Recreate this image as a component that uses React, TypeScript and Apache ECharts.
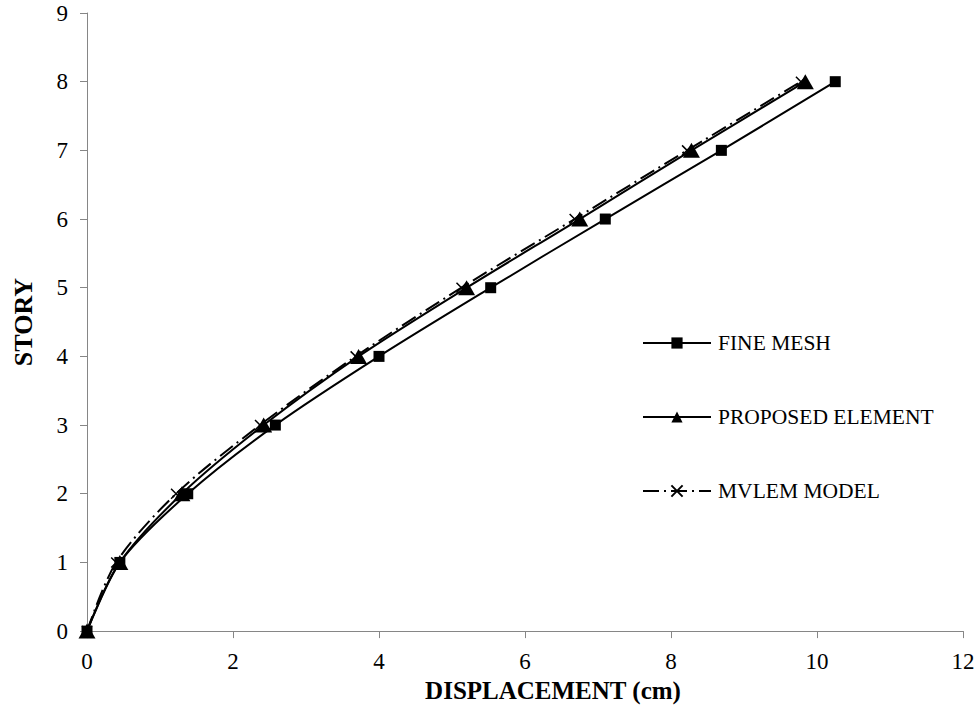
import React, { useEffect, useRef } from "react";
import * as echarts from "echarts";

const stories = [0, 1, 2, 3, 4, 5, 6, 7, 8];
const fineMesh = [0, 0.45, 1.38, 2.58, 4.0, 5.53, 7.1, 8.69, 10.25];
const proposed = [0, 0.45, 1.3, 2.42, 3.72, 5.2, 6.75, 8.28, 9.84];
const mvlem = [0, 0.4, 1.22, 2.37, 3.68, 5.13, 6.68, 8.22, 9.78];
const seriesNames = ["FINE MESH", "PROPOSED ELEMENT", "MVLEM MODEL"];

const pairs = (xs: number[]) => xs.map((x, i) => [x, stories[i]]);

export default function App() {
  const ref = useRef<HTMLDivElement>(null);
  useEffect(() => {
    if (!ref.current) return;
    const chart = echarts.init(ref.current, null, { renderer: "svg" });
    const font = "'Liberation Serif', 'Times New Roman', serif";
    const axisCommon = {
      axisLine: { show: true, lineStyle: { color: "#868686", width: 1 } },
      axisTick: { show: true, inside: false, length: 7, lineStyle: { color: "#868686", width: 1 } },
      splitLine: { show: false },
      axisLabel: { color: "#000", fontFamily: font, fontSize: 23 },
    };
    chart.setOption({
      animation: false,
      backgroundColor: "#fff",
      grid: { left: 87, right: 16, top: 13, bottom: 76, containLabel: false },
      xAxis: {
        type: "value",
        min: 0,
        max: 12,
        interval: 2,
        name: "DISPLACEMENT (cm)",
        nameLocation: "middle",
        nameGap: 44,
        nameTextStyle: {
          color: "#000",
          fontFamily: font,
          fontSize: 25,
          fontWeight: "bold",
          padding: [0, 0, 0, 56],
        },
        ...axisCommon,
        axisLabel: { ...axisCommon.axisLabel, margin: 19 },
      },
      yAxis: {
        type: "value",
        min: 0,
        max: 9,
        interval: 1,
        name: "STORY",
        nameLocation: "middle",
        nameGap: 51,
        nameTextStyle: {
          color: "#000",
          fontFamily: font,
          fontSize: 26,
          fontWeight: "bold",
        },
        ...axisCommon,
        axisLabel: { ...axisCommon.axisLabel, margin: 19 },
      },
      legend: {
        orient: "vertical",
        left: 642,
        top: 332,
        padding: 0,
        itemWidth: 68,
        itemHeight: 14,
        itemGap: 52,
        textStyle: { color: "#000", fontFamily: font, fontSize: 21.5, padding: [0, 0, 0, 2] },
        data: seriesNames,
      },
      series: [
        {
          name: seriesNames[0],
          type: "line",
          data: pairs(fineMesh),
          smooth: 0.3,
          symbol: "rect",
          symbolSize: 11,
          lineStyle: { color: "#000", width: 2 },
          itemStyle: { color: "#000" },
          z: 3,
        },
        {
          name: seriesNames[1],
          type: "line",
          data: pairs(proposed),
          smooth: 0.3,
          symbol: "triangle",
          symbolSize: [17, 15],
          lineStyle: { color: "#000", width: 2 },
          itemStyle: { color: "#000" },
          z: 4,
        },
        {
          name: seriesNames[2],
          type: "line",
          data: pairs(mvlem),
          smooth: 0.3,
          symbol: "path://M0,0L10,10M0,10L10,0",
          symbolSize: 10,
          lineStyle: { color: "#000", width: 2, type: [16, 5, 2, 5] },
          itemStyle: { color: "#000", borderColor: "#000", borderWidth: 1.5 },
          z: 2,
        },
      ],
    });
    return () => chart.dispose();
  }, []);
  return (
    <div
      ref={ref}
      style={{ position: "fixed", left: 0, top: 0, width: 979, height: 708, background: "#fff" }}
    />
  );
}
